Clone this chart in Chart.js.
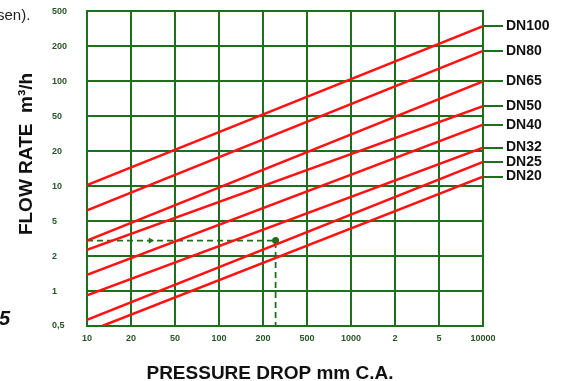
<!DOCTYPE html>
<html>
<head>
<meta charset="utf-8">
<script src="https://cdn.jsdelivr.net/npm/chart.js@4.4.0/dist/chart.umd.min.js"></script>
<style>
  html, body { margin: 0; padding: 0; background: #fff; }
  #wrap { width: 561px; height: 381px; position: relative; }
</style>
</head>
<body>
<div id="wrap"><canvas id="myChart"></canvas></div>
<script>
// the diagram uses an evenly spaced 1-2-5 grid on both axes
const pressureSteps = [10, 20, 50, 100, 200, 500, 1000, 2000, 5000, 10000];
const pressureLabels = ['10', '20', '50', '100', '200', '500', '1000', '2', '5', '10000'];
const flowSteps = [0.5, 1, 2, 5, 10, 20, 50, 100, 200, 500];
const flowLabels = ['0,5', '1', '2', '5', '10', '20', '50', '100', '200', '500'];

// one line per valve size, start point and end point (mm C.A. / m3/h)
const sizes = ['DN100', 'DN80', 'DN65', 'DN50', 'DN40', 'DN32', 'DN25', 'DN20'];
const startPressure = [10, 10, 10, 10, 10, 10, 10, 12.7];
const startFlow = [10.2, 6.2, 3.0, 2.35, 1.38, 0.92, 0.565, 0.5];
const endPressure = [10000, 10000, 10000, 10000, 10000, 10000, 10000, 10000];
const endFlow = [340, 183, 100, 61, 40, 22, 16.2, 12.1];

// worked example drawn dashed: 3 m3/h -> about 260 mm
const exampleFlow = 3;
const examplePressure = 260;
const arrowPressure = 30;

const gridColor = 'rgb(28,112,28)';
const tickColor = 'rgb(38,84,38)';
const lineRed = '#ff1212';

Chart.defaults.font.family = '"Liberation Sans", Arial, sans-serif';

// position of a value on the 1-2-5 grid (0 = first step)
function gridPos(v, steps) {
  for (let i = 0; i < steps.length - 1; i++) {
    if (v <= steps[i + 1]) {
      return i + Math.log(v / steps[i]) / Math.log(steps[i + 1] / steps[i]);
    }
  }
  return steps.length - 1;
}
const px = v => gridPos(v, pressureSteps);
const py = v => gridPos(v, flowSteps);

const datasets = sizes.map((name, i) => ({
  label: name,
  data: [
    { x: px(startPressure[i]), y: py(startFlow[i]) },
    { x: px(endPressure[i]), y: py(endFlow[i]) }
  ],
  borderColor: lineRed,
  borderWidth: 2.5,
  pointRadius: 0
}));

datasets.push({
  label: 'example',
  data: [
    { x: px(pressureSteps[0]), y: py(exampleFlow) },
    { x: px(examplePressure), y: py(exampleFlow) },
    { x: px(examplePressure), y: py(flowSteps[0]) }
  ],
  borderColor: gridColor,
  borderWidth: 1.8,
  borderDash: [6, 4],
  pointRadius: 0
});
datasets.push({
  label: 'dot',
  data: [{ x: px(examplePressure), y: py(exampleFlow) }],
  showLine: false,
  pointRadius: 3.5,
  pointBackgroundColor: gridColor,
  pointBorderWidth: 0
});
datasets.push({
  label: 'arrow',
  data: [{ x: px(arrowPressure), y: py(exampleFlow) }],
  showLine: false,
  pointStyle: 'triangle',
  rotation: 90,
  pointRadius: 3.5,
  pointBackgroundColor: gridColor,
  pointBorderWidth: 0
});

const extraText = {
  id: 'extraText',
  afterDraw(chart) {
    const ctx = chart.ctx;
    ctx.save();
    ctx.fillStyle = '#111';
    ctx.font = 'bold 19px "Liberation Sans", Arial, sans-serif';
    ctx.textAlign = 'center';
    ctx.textBaseline = 'alphabetic';
    ctx.fillText('PRESSURE DROP mm C.A.', 270, 379);
    ctx.save();
    ctx.translate(32, 154);
    ctx.rotate(-Math.PI / 2);
    ctx.fillText('FLOW RATE  m\u00b3/h', 0, 0);
    ctx.restore();
    // bits of the surrounding page text
    ctx.textAlign = 'left';
    ctx.font = '15px "Liberation Sans", Arial, sans-serif';
    ctx.fillStyle = '#222';
    ctx.fillText('sen).', -3, 20);
    ctx.textAlign = 'right';
    ctx.font = 'italic bold 20px "Liberation Sans", Arial, sans-serif';
    ctx.fillStyle = '#111';
    ctx.fillText('5', 10, 325);
    ctx.restore();
  }
};

const ctx = document.getElementById('myChart');
new Chart(ctx, {
  type: 'line',
  data: { datasets: datasets },
  plugins: [extraText],
  options: {
    maintainAspectRatio: false,
    animation: false,
    layout: { padding: { left: 52, top: 11, right: 0, bottom: 0 } },
    plugins: {
      legend: { display: false },
      tooltip: { enabled: false }
    },
    scales: {
      x: {
        type: 'linear',
        min: 0,
        max: 9,
        afterBuildTicks: s => { s.ticks = pressureLabels.map((l, i) => ({ value: i })); },
        afterFit: s => { s.height = 55; },
        ticks: {
          autoSkip: false,
          maxRotation: 0,
          padding: 7,
          color: tickColor,
          font: { size: 9, weight: 'bold' },
          callback: (v, i) => pressureLabels[i]
        },
        grid: { color: gridColor, lineWidth: 2, drawTicks: false },
        border: { color: gridColor, width: 2 }
      },
      y: {
        type: 'linear',
        min: 0,
        max: 9,
        afterBuildTicks: s => { s.ticks = flowLabels.map((l, i) => ({ value: i })); },
        afterFit: s => { s.width = 35; },
        ticks: {
          autoSkip: false,
          crossAlign: 'far',
          color: tickColor,
          font: { size: 9, weight: 'bold' },
          callback: (v, i) => flowLabels[i]
        },
        grid: { color: gridColor, lineWidth: 2, drawTicks: false },
        border: { color: gridColor, width: 2 }
      },
      y2: {
        type: 'linear',
        position: 'right',
        min: 0,
        max: 9,
        afterBuildTicks: s => { s.ticks = endFlow.map(f => ({ value: py(f) })); },
        afterFit: s => { s.width = 78; },
        ticks: {
          autoSkip: false,
          padding: 3,
          color: '#111',
          font: { size: 14, weight: 'bold' },
          callback: (v, i) => sizes[i]
        },
        grid: { drawOnChartArea: false, color: gridColor, lineWidth: 2, tickLength: 20 },
        border: { color: gridColor, width: 2 }
      }
    }
  }
});
</script>
</body>
</html>
